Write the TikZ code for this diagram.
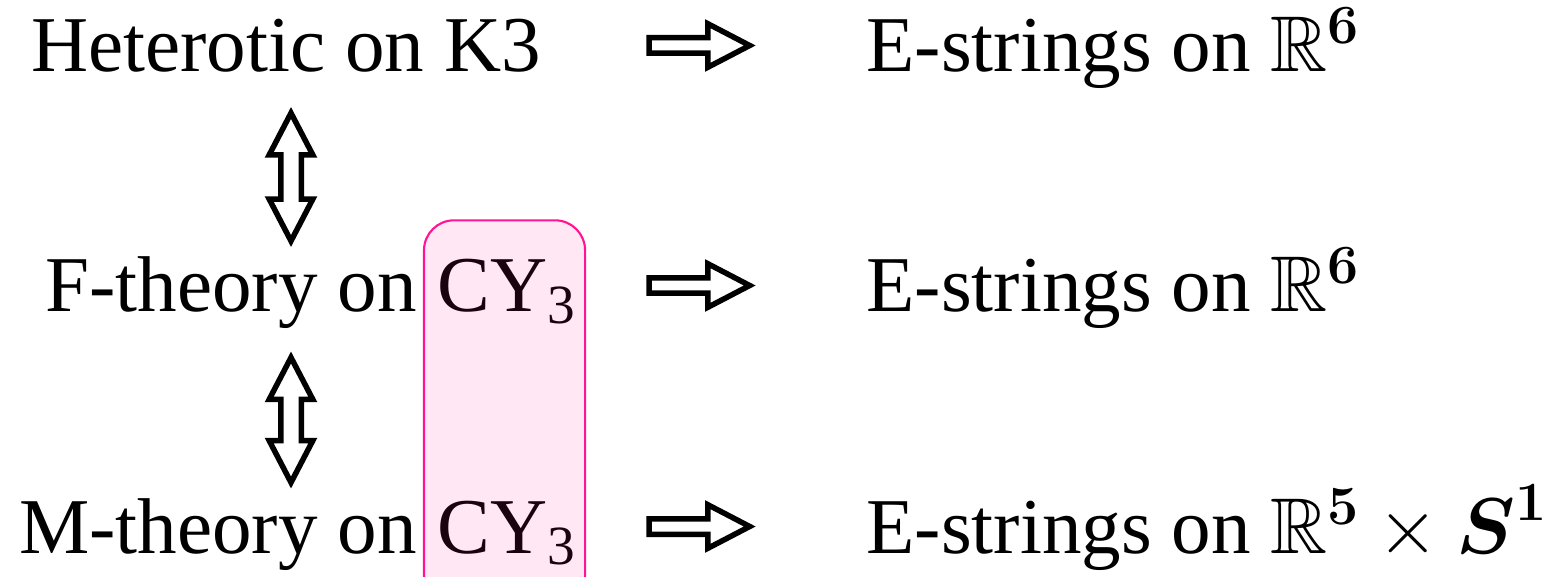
\RequirePackage{fix-cm}
\documentclass[tikz,border=0pt]{standalone}
\usepackage{amsmath, amssymb}
\usepackage[no-math]{fontspec}
\setmainfont{Liberation Serif}
\usetikzlibrary{shapes.arrows}
\definecolor{cypink}{RGB}{255,20,147}

\begin{document}
\begin{tikzpicture}[
    x=0.02cm, y=-0.02cm,
    txt/.style={inner sep=0pt, font=\fontsize{45}{54}\selectfont},
    lefttxt/.style={txt, anchor=base west},
    righttxt/.style={txt, anchor=base east},
    reduce/.style={single arrow, draw, line width=0.11cm, line join=miter, inner sep=0.1cm,
        single arrow head extend=0.28cm, single arrow tip angle=55, minimum height=2.01cm},
    duality/.style={double arrow, draw, rotate=90, line width=0.11cm, line join=miter, inner sep=0.15cm,
        double arrow head extend=0.23cm, double arrow tip angle=55, minimum height=2.56cm},
    cybox/.style={draw=cypink, line width=1.2pt, fill=cypink, fill opacity=0.1, rounded corners=0.6cm},
]
\useasboundingbox (0,0) rectangle (1550,577);

% ============ left column: compactifications ============
\node[lefttxt] (het) at (31,72) {Heterotic on K3};

\node[righttxt] (fth) at (417,312) {F-theory on};
\node[lefttxt] (cyF) at (437,312) {CY\textsubscript{3}};

\node[righttxt] (mth) at (417,553) {M-theory on};
\node[lefttxt] (cyM) at (437,553) {CY\textsubscript{3}};

\node[duality] (d1) at (291,177) {};
\node[duality, minimum height=2.5cm] (d2) at (291,420) {};

% ============ right column: E-strings ============
\node[lefttxt] (esA) at (866,72) {E-strings on $\mathbb{R}^{\boldsymbol{6}}$};
\node[lefttxt] (esB) at (866,312) {E-strings on $\mathbb{R}^{\boldsymbol{6}}$};
\node[lefttxt] (esC) at (866,553) {E-strings on $\mathbb{R}^{\boldsymbol{5}}\times\boldsymbol{S}^{\boldsymbol{1}}$};

\node[reduce] (r1) at (692,45.5) {};
\node[reduce] (r2) at (692,285.5) {};
\node[reduce] (r3) at (692,526.5) {};

% same CY3 in both rows
\draw[cybox] ([xshift=-0.26cm, yshift=0.78cm]cyF.north west) rectangle ([xshift=0.18cm, yshift=-0.8cm]cyM.south east);

\end{tikzpicture}
\end{document}
